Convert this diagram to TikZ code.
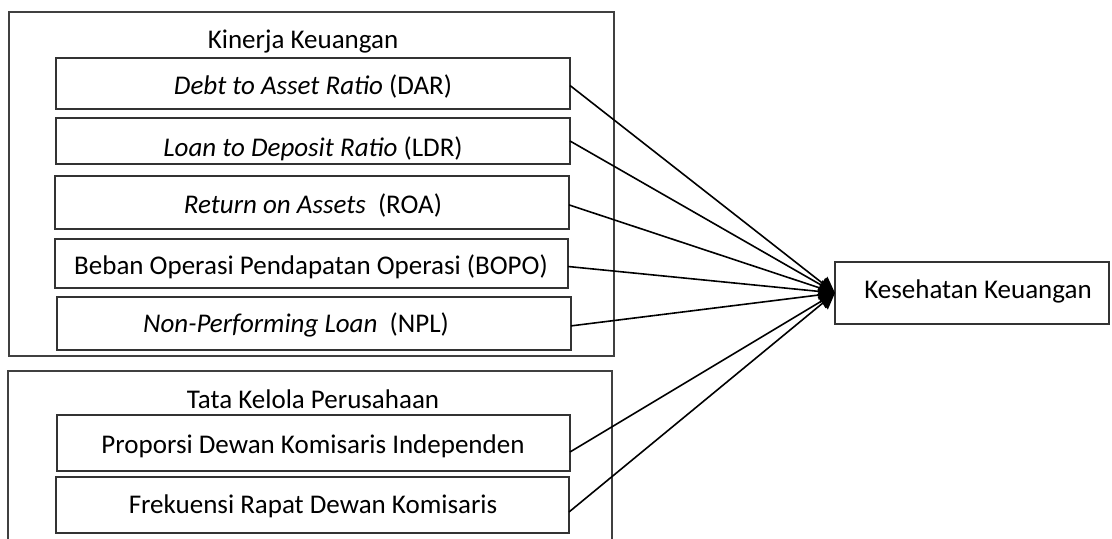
\documentclass[tikz,border=0pt]{standalone}
\usepackage{fontspec}
\setmainfont{Carlito}
\usetikzlibrary{arrows.meta}
\newcommand\mkbox[6]{\node[#6, minimum width={(#4-#2)*0.5pt}, minimum height={(#5-#3)*0.5pt}, anchor=north west] (#1) at (#2,#3) {};}
\begin{document}
\begin{tikzpicture}[x=0.5pt,y=-0.5pt,
  outerbox/.style={draw=black!75, line width=0.55pt, inner sep=0pt, outer sep=0pt},
  innerbox/.style={draw=black!80, line width=0.6pt, inner sep=0pt, outer sep=0pt},
  lbl/.style={anchor=base, inner sep=0pt, font=\fontsize{13.5}{15}\selectfont},
  conn/.style={draw=black, line width=0.8pt, -{Triangle[length=8pt,width=8pt]}}]
\useasboundingbox (0,0) rectangle (1112,539);
\clip (0,0) rectangle (1112,539);
% group 1
\mkbox{kk}{9}{12}{614}{356}{outerbox}
\node[lbl] (kkt) at (303,49) {Kinerja Keuangan};
\mkbox{dar}{56}{58}{570}{109}{innerbox}
\node[lbl] (dart) at (313,95) {\textit{Debt to Asset Ratio} (DAR)};
\mkbox{ldr}{56}{118}{570}{164}{innerbox}
\begin{scope}
\clip (56,118) rectangle (570,163);
\node[lbl] (ldrt) at (313,157) {\textit{Loan to Deposit Ratio} (LDR)};
\end{scope}
\mkbox{roa}{55}{176}{569}{229}{innerbox}
\node[lbl] (roat) at (313,214) {\textit{Return on Assets}\ \ (ROA)};
\mkbox{bopo}{55}{239}{568}{288}{innerbox}
\node[lbl] (bopot) at (311,275) {Beban Operasi Pendapatan Operasi (BOPO)};
\mkbox{npl}{57}{297}{571}{350}{innerbox}
\node[lbl] (nplt) at (296,333) {\textit{Non-Performing Loan}\ \ (NPL)};
% group 2
\mkbox{tk}{8}{371}{612}{600}{outerbox}
\node[lbl] (tkt) at (313,408) {Tata Kelola Perusahaan};
\mkbox{pdk}{57}{415}{570}{471}{innerbox}
\node[lbl] (pdkt) at (313,453) {Proporsi Dewan Komisaris Independen};
\mkbox{frk}{56}{477}{569}{533}{innerbox}
\node[lbl] (frkt) at (313,513) {Frekuensi Rapat Dewan Komisaris};
% target
\mkbox{ks}{835}{262}{1109}{324}{innerbox}
\node[lbl] (kst) at (978,299) {Kesehatan Keuangan};
% connectors
\draw[conn] ([yshift=-1pt]dar.east) -- (ks.west);
\draw[conn] (ldr.east) -- (ks.west);
\draw[conn] ([yshift=-1.2pt]roa.east) -- (ks.west);
\draw[conn] ([yshift=-1.5pt]bopo.east) -- (ks.west);
\draw[conn] ([yshift=-1.2pt]npl.east) -- (ks.west);
\draw[conn] ([yshift=-4.5pt]pdk.east) -- (ks.west);
\draw[conn] ([yshift=-3.5pt]frk.east) -- (ks.west);
\end{tikzpicture}
\end{document}
